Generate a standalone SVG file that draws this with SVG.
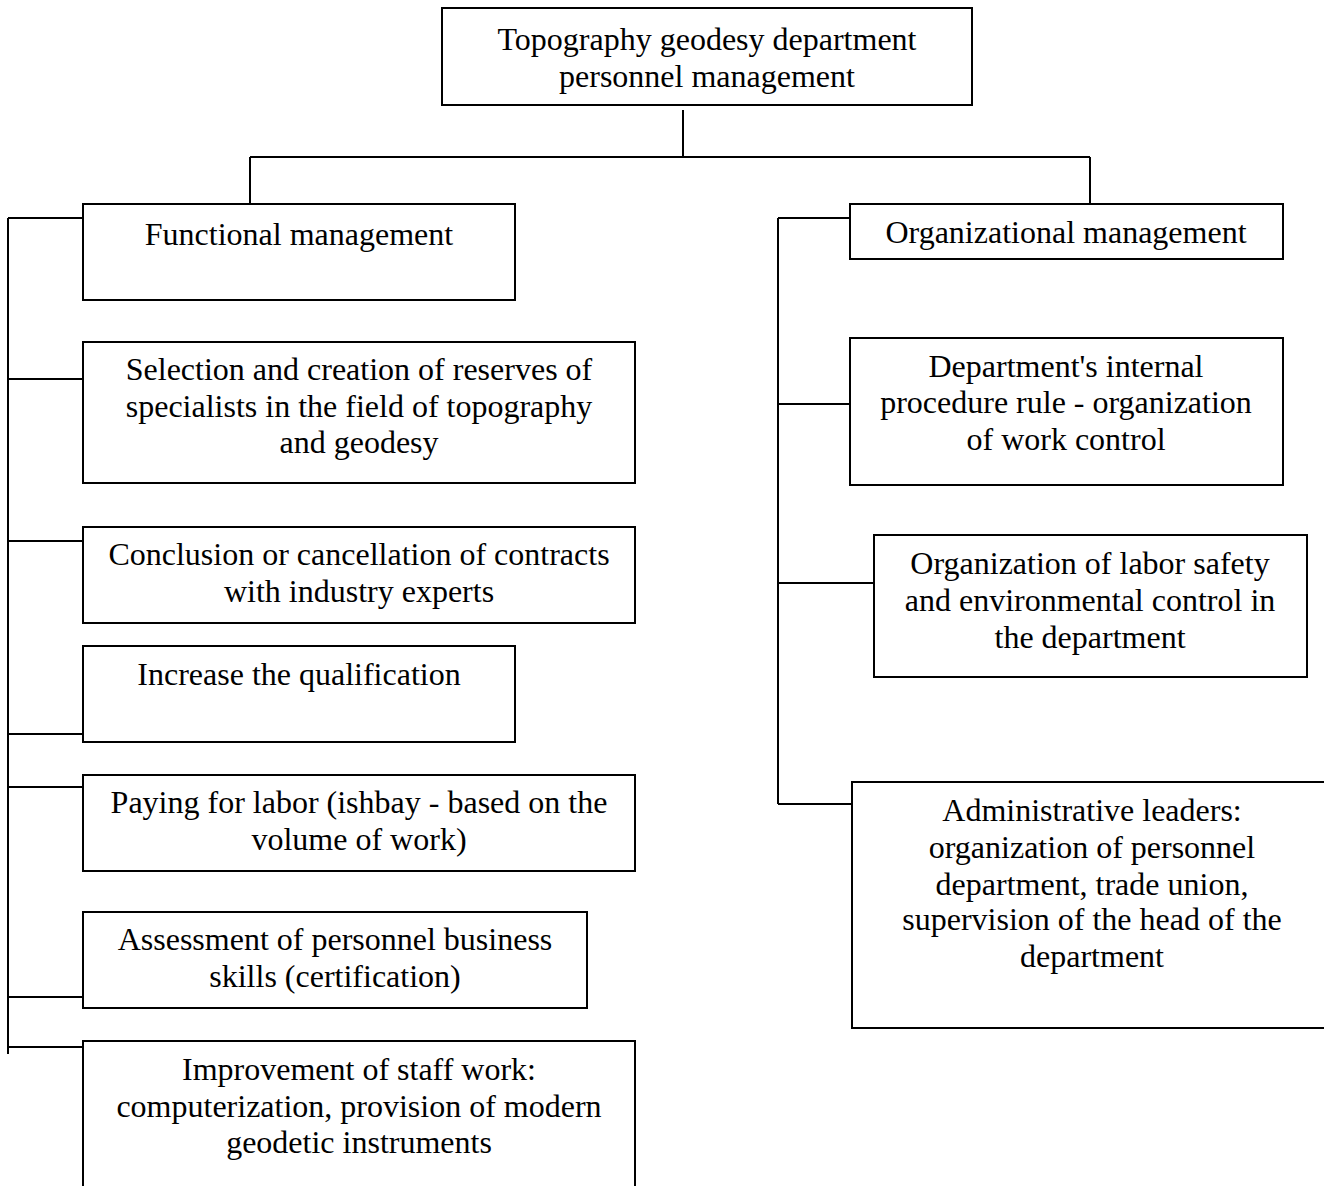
<svg xmlns="http://www.w3.org/2000/svg" width="1324" height="1186" viewBox="0 0 1324 1186">
<style>
.box{fill:#fff;stroke:#000;stroke-width:2}
.ln{fill:none;stroke:#000;stroke-width:2}
text{font-family:"Liberation Serif","Times New Roman",serif;font-size:32px;fill:#000;text-anchor:middle}
</style>
<rect width="1324" height="1186" fill="#fff"/>
<g id="connectors">
<path class="ln" d="M683 110V157M250 157H1090M250 157V204M1090 157V204"/>
<path class="ln" d="M8 218V1054M8 218H83M8 379H83M8 541H83M8 734H83M8 787H83M8 997H83M8 1047H83"/>
<path class="ln" d="M778 218V804M778 218H850M778 404H850M778 583H874M778 804H852"/>
</g>
<g id="n-top">
<rect class="box" x="442" y="8" width="530" height="97"/>
<text x="707" y="50">Topography geodesy department</text>
<text x="707" y="87">personnel management</text>
</g>
<g id="n-functional">
<rect class="box" x="83" y="204" width="432" height="96"/>
<text x="299" y="245">Functional management</text>
</g>
<g id="n-selection">
<rect class="box" x="83" y="342" width="552" height="141"/>
<text x="359" y="380">Selection and creation of reserves of</text>
<text x="359" y="417">specialists in the field of topography</text>
<text x="359" y="453">and geodesy</text>
</g>
<g id="n-conclusion">
<rect class="box" x="83" y="527" width="552" height="96"/>
<text x="359" y="565">Conclusion or cancellation of contracts</text>
<text x="359" y="602">with industry experts</text>
</g>
<g id="n-increase">
<rect class="box" x="83" y="646" width="432" height="96"/>
<text x="299" y="685">Increase the qualification</text>
</g>
<g id="n-paying">
<rect class="box" x="83" y="775" width="552" height="96"/>
<text x="359" y="813">Paying for labor (ishbay - based on the</text>
<text x="359" y="850">volume of work)</text>
</g>
<g id="n-assessment">
<rect class="box" x="83" y="912" width="504" height="96"/>
<text x="335" y="950">Assessment of personnel business</text>
<text x="335" y="987">skills (certification)</text>
</g>
<g id="n-improvement">
<rect class="box" x="83" y="1041" width="552" height="160"/>
<text x="359" y="1080">Improvement of staff work:</text>
<text x="359" y="1117">computerization, provision of modern</text>
<text x="359" y="1153">geodetic instruments</text>
</g>
<g id="n-organizational">
<rect class="box" x="850" y="204" width="433" height="55"/>
<text x="1066" y="243">Organizational management</text>
</g>
<g id="n-department">
<rect class="box" x="850" y="338" width="433" height="147"/>
<text x="1066" y="377">Department's internal</text>
<text x="1066" y="413">procedure rule - organization</text>
<text x="1066" y="450">of work control</text>
</g>
<g id="n-labor">
<rect class="box" x="874" y="535" width="433" height="142"/>
<text x="1090" y="574">Organization of labor safety</text>
<text x="1090" y="611">and environmental control in</text>
<text x="1090" y="648">the department</text>
</g>
<g id="n-admin">
<rect class="box" x="852" y="782" width="480" height="246"/>
<text x="1092" y="821">Administrative leaders:</text>
<text x="1092" y="858">organization of personnel</text>
<text x="1092" y="895">department, trade union,</text>
<text x="1092" y="930">supervision of the head of the</text>
<text x="1092" y="967">department</text>
</g>
</svg>
